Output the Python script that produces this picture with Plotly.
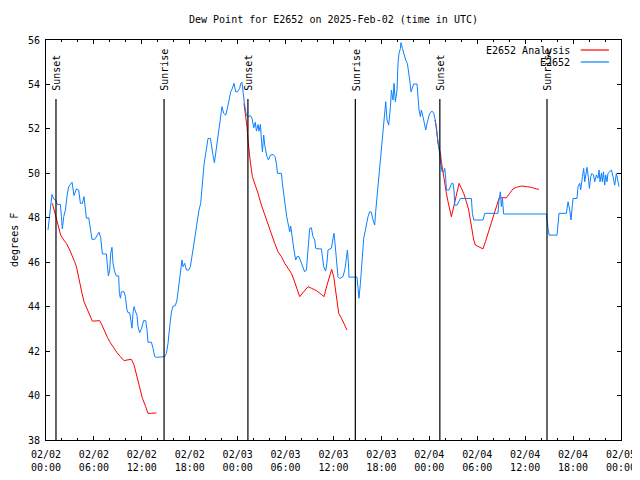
import pandas as pd
import plotly.graph_objects as go

BASE = "2025-02-02 00:00"

# Observed dew point (E2652): hours since 2025-02-02 00:00 UTC, degrees F
obs_hours = [0.25, 0.59, 0.75, 0.96, 1.21, 1.43, 1.80, 1.93, 2.05, 2.22, 2.43, 2.68, 2.84, 3.26, 3.51, 3.81,
             4.09, 4.31, 4.56, 4.76, 4.93, 5.06, 5.35, 5.56, 5.76, 6.10, 6.39, 6.64, 6.85, 6.94, 7.06, 7.56,
             7.69, 7.81, 7.98, 8.10, 8.26, 8.39, 8.60, 8.82, 9.10, 9.19, 9.32, 9.44, 9.77, 9.94, 10.14, 10.27,
             10.48, 10.64, 10.77, 10.89, 11.02, 11.19, 11.40, 11.52, 11.73, 11.95, 12.23, 12.48, 12.65, 12.77,
             13.20, 13.40, 13.61, 13.82, 14.86, 15.08, 15.28, 15.49, 15.70, 15.90, 16.20, 16.40, 16.62, 16.83,
             17.03, 17.16, 17.37, 17.58, 17.87, 18.08, 18.28, 18.53, 18.75, 18.96, 19.16, 19.37, 19.58, 19.78,
             20.00, 20.16, 20.29, 20.59, 20.75, 20.91, 21.09, 21.25, 21.46, 21.66, 21.88, 22.04, 22.25, 22.50,
             22.72, 22.92, 23.13, 23.34, 23.54, 23.75, 23.97, 24.26, 24.38, 24.54, 24.67, 24.84, 25.09, 25.38,
             25.59, 25.79, 26.01, 26.20, 26.35, 26.55, 26.67, 26.85, 27.01, 27.10, 27.26, 27.42, 27.67, 27.85,
             28.10, 28.43, 28.68, 28.85, 28.98, 29.48, 29.60, 29.80, 29.98, 30.14, 30.35, 30.52, 30.64, 30.77,
             30.93, 31.05, 31.27, 31.43, 31.68, 31.89, 32.11, 32.39, 32.61, 32.73, 32.86, 33.02, 33.23, 33.43,
             33.65, 33.77, 34.06, 34.49, 34.61, 34.77, 35.02, 35.19, 35.31, 35.52, 35.74, 35.94, 36.06, 36.19,
             36.36, 36.56, 36.78, 37.19, 37.44, 37.62, 37.74, 37.87, 37.94, 38.94, 39.07, 39.19, 39.37, 39.49,
             39.62, 39.78, 39.95, 40.12, 40.32, 40.53, 40.74, 40.95, 41.16, 41.28, 41.45, 41.62, 41.79, 41.95,
             42.12, 42.29, 42.41, 42.54, 42.70, 42.91, 43.13, 43.25, 43.45, 43.58, 43.75, 43.95, 44.08, 44.20,
             44.38, 44.45, 44.63, 44.83, 45.04, 45.25, 45.42, 45.54, 45.71, 45.88, 46.04, 46.46, 46.58, 46.71,
             46.88, 47.00, 47.21, 47.42, 47.55, 47.71, 47.88, 48.05, 48.34, 48.55, 48.71, 48.88, 49.08, 49.30,
             49.42, 49.59, 49.80, 49.93, 50.05, 50.14, 50.46, 50.64, 50.80, 50.96, 51.09, 51.18, 51.47, 51.68,
             51.89, 53.27, 53.39, 53.56, 54.72, 54.93, 56.60, 56.72, 56.90, 57.02, 57.15, 57.31, 62.66, 62.86,
             62.99, 63.99, 64.24, 65.16, 65.37, 65.58, 65.74, 65.92, 65.99, 66.49, 66.62, 66.83, 66.95, 67.17,
             67.33, 67.46, 67.58, 67.74, 67.92, 68.04, 68.21, 68.37, 68.55, 68.71, 68.92, 69.12, 69.25, 69.37,
             69.55, 69.67, 69.80, 69.96, 70.08, 70.25, 70.37, 70.59, 70.80, 71.01, 71.21, 71.42, 71.62, 71.75]
obs_values = [47.45, 48.65, 49.05, 48.85, 48.8, 48.6, 48.6, 48.05, 47.5, 48.05, 48.35, 49.1, 49.4, 49.6, 49.0, 49.3,
              49.25, 48.65, 48.65, 48.95, 48.2, 47.98, 48.0, 47.37, 47.03, 47.03, 47.2, 47.35, 47.1, 46.63, 46.37, 46.37,
              45.68, 45.38, 45.65, 46.4, 46.67, 45.95, 45.57, 45.38, 45.38, 44.6, 44.38, 44.67, 44.67, 44.45, 43.85, 43.73,
              43.73, 43.25, 43.03, 43.7, 44.0, 43.8, 43.6, 43.1, 42.83, 43.0, 43.37, 43.37, 42.95, 42.4,
              42.4, 42.13, 41.75, 41.72, 41.75, 41.9, 42.35, 43.1, 43.75, 44.02, 44.05, 44.3, 44.97, 45.5,
              46.1, 45.8, 45.95, 45.65, 45.65, 45.8, 46.25, 47.0, 47.45, 47.98, 48.35, 48.65, 49.55, 50.37,
              50.9, 51.35, 51.57, 51.57, 51.13, 50.82, 50.48, 50.9, 51.27, 51.8, 52.4, 53.0, 52.7, 52.62,
              52.93, 53.38, 53.67, 53.83, 54.05, 53.67, 53.67, 53.83, 54.05, 54.1, 53.6, 53.15, 52.62, 52.55,
              52.6, 52.48, 52.05, 52.3, 51.9, 52.2, 51.9, 52.2, 51.35, 50.97, 51.72, 51.2, 50.75, 50.6,
              50.82, 50.85, 50.75, 50.45, 50.0, 50.0, 49.55, 49.1, 48.5, 48.05, 47.6, 47.37, 47.63, 47.3,
              46.7, 46.55, 46.1, 46.25, 46.25, 46.02, 45.8, 45.57, 45.65, 46.25, 46.85, 47.52, 47.55, 47.15,
              47.0, 46.63, 46.6, 46.6, 46.25, 45.8, 45.6, 46.0, 46.55, 46.6, 46.63, 47.07, 47.3, 46.85,
              45.95, 45.35, 45.27, 45.35, 45.7, 46.3, 46.55, 45.98, 45.33, 45.33, 44.75, 44.38, 45.05, 45.65,
              46.25, 47.07, 47.37, 47.75, 48.05, 48.27, 48.25, 47.9, 47.68, 48.27, 48.95, 49.55, 50.0, 50.75,
              51.5, 52.1, 52.85, 53.22, 52.4, 52.17, 53.0, 53.75, 53.3, 54.05, 53.22, 53.75, 54.95, 55.4,
              55.62, 55.88, 55.62, 55.32, 55.1, 54.95, 54.57, 54.2, 53.67, 53.83, 54.02, 54.02, 53.45, 52.85,
              52.55, 52.85, 52.55, 52.17, 51.95, 52.25, 52.48, 52.7, 52.8, 52.7, 52.45, 51.95, 51.35, 50.9,
              50.45, 50.07, 50.07, 50.22, 49.78, 49.25, 49.25, 49.47, 49.55, 49.55, 49.25, 48.57, 48.57, 48.72,
              48.87, 48.87, 48.2, 47.9, 47.9, 48.2, 48.2, 48.8, 49.17, 48.5, 48.87, 48.17, 48.17, 47.52,
              47.22, 47.22, 48.2, 48.2, 48.72, 48.35, 47.9, 48.6, 48.87, 48.87, 49.4, 49.55, 49.25, 49.85,
              50.22, 49.62, 50.0, 50.27, 49.8, 49.32, 49.85, 50.0, 49.93, 49.62, 49.93, 49.78, 50.15, 49.62,
              50.0, 49.62, 50.07, 49.47, 49.93, 49.62, 50.0, 50.07, 50.15, 49.85, 49.47, 50.0, 49.62, 49.4]

# Analysis dew point (E2652 Analysis), three separate runs (None = gap)
ana_hours = [0.80, 1.09, 1.30, 1.59, 1.84, 2.22, 2.55, 2.97, 3.26, 3.59, 3.81, 4.01, 4.22, 4.51, 4.76, 5.06,
             5.47, 5.81, 6.72, 7.01, 7.35, 7.69, 8.06, 8.48, 8.89, 9.32, 9.77, 10.14, 10.69, 11.02, 11.32, 11.65,
             12.07, 12.48, 12.77, 13.20, 13.82, 14.0,
             24.79, 25.01, 25.17, 25.29, 25.42, 25.59, 25.84, 26.13, 26.55, 26.97, 27.39, 27.80, 28.22, 28.64,
             29.05, 29.48, 29.89, 30.30, 30.73, 31.05, 31.43, 31.77, 32.27, 32.81, 33.23, 33.86, 34.49, 34.81,
             35.19, 35.52, 35.77, 36.03, 36.24, 36.44, 36.65, 36.99, 37.40, 37.69, 38.0,
             48.71, 48.88, 49.08, 49.39, 49.51, 49.71, 49.93, 50.14, 50.34, 50.55, 50.76, 50.96, 51.18, 51.39,
             51.59, 51.72, 52.02, 52.30, 52.64, 52.93, 53.14, 53.34, 53.56, 53.77, 54.18, 54.72, 55.02, 55.35,
             55.69, 56.06, 56.40, 56.72, 57.02, 57.65, 58.06, 58.48, 58.90, 59.53, 60.16, 60.78, 61.41, 61.73]
ana_values = [48.65, 48.27, 47.9, 47.52, 47.22, 47.0, 46.85, 46.55, 46.32, 46.02, 45.8, 45.43, 45.05, 44.6, 44.22, 43.93,
              43.63, 43.35, 43.37, 43.17, 42.87, 42.62, 42.38, 42.13, 41.93, 41.75, 41.57, 41.6, 41.63, 41.38, 40.92, 40.4,
              39.88, 39.5, 39.2, 39.2, 39.22, None,
              53.15, 52.62, 52.1, 51.5, 50.9, 50.5, 49.85, 49.55, 49.1, 48.57, 48.12, 47.68, 47.3, 46.85,
              46.47, 46.25, 45.95, 45.72, 45.5, 45.2, 44.83, 44.45, 44.67, 44.9, 44.83, 44.72, 44.55, 44.45,
              44.97, 45.35, 45.68, 45.35, 44.83, 44.3, 43.7, 43.48, 43.17, 42.95, None,
              52.4, 52.1, 51.35, 50.9, 50.52, 50.0, 49.55, 49.1, 48.72, 48.35, 48.05, 48.35, 48.72, 49.1,
              49.4, 49.55, 49.32, 49.1, 48.72, 48.35, 47.9, 47.45, 47.0, 46.77, 46.7, 46.6, 46.92, 47.3,
              47.75, 48.2, 48.57, 48.87, 48.9, 48.9, 49.1, 49.3, 49.37, 49.43, 49.4, 49.37, 49.3, 49.28]

sunset_times = ["2025-02-02 01:15", "2025-02-03 01:17", "2025-02-04 01:19"]
sunrise_times = ["2025-02-02 14:47", "2025-02-03 14:44", "2025-02-04 14:44"]

y_ticks = [38, 40, 42, 44, 46, 48, 50, 52, 54, 56]

base = pd.Timestamp(BASE)
obs_t = base + pd.to_timedelta(obs_hours, unit="h")
ana_t = base + pd.to_timedelta(ana_hours, unit="h")

FONT = dict(family="DejaVu Sans Mono", size=10, color="black")
BLUE = "#0a80ff"
RED = "#ff0000"

# The page body has an 8px default margin; size the figure so that the
# plot area lands at the reference's pixel positions inside a 640x480 window.
W, H = 632, 472

fig = go.Figure()
fig.add_trace(go.Scatter(x=ana_t, y=ana_values, mode="lines", name="E2652 Analysis",
                         line=dict(color=RED, width=1), connectgaps=False))
fig.add_trace(go.Scatter(x=obs_t, y=obs_values, mode="lines", name="E2652",
                         line=dict(color=BLUE, width=1)))

events = [(t, "Sunset") for t in sunset_times] + [(t, "Sunrise") for t in sunrise_times]
for t, label in events:
    fig.add_shape(type="line", xref="x", yref="paper", x0=t, x1=t, y0=0, y1=0.8525,
                  line=dict(color="black", width=1.2))
    fig.add_annotation(x=t, y=0.868, xref="x", yref="paper", text=label, textangle=-90,
                       showarrow=False, xanchor="center", yanchor="bottom", font=FONT, xshift=1)

# legend drawn gnuplot-style: text right, sample line on the right
for name, color, yp in [("E2652 Analysis", RED, 0.975), ("E2652", BLUE, 0.945)]:
    fig.add_annotation(x=0.914, y=yp, xref="paper", yref="paper", text=name, showarrow=False,
                       xanchor="right", yanchor="middle", font=FONT)
    fig.add_shape(type="line", xref="paper", yref="paper", x0=0.930, x1=0.979, y0=yp, y1=yp,
                  line=dict(color=color, width=1.2))

fig.add_annotation(x=-0.0557, y=0.5, xref="paper", yref="paper", text="degrees F", textangle=-90,
                   showarrow=False, xanchor="center", yanchor="middle", font=FONT)

fig.update_layout(
    width=W, height=H,
    margin=dict(l=38, r=19, t=32, b=40, autoexpand=False),
    paper_bgcolor="white", plot_bgcolor="white",
    font=FONT,
    showlegend=False,
    title=dict(text="Dew Point for E2652 on 2025-Feb-02 (time in UTC)", x=0.5, xref="paper",
               y=1 - 11 / H, yanchor="middle", font=FONT, automargin=False),
)
fig.update_xaxes(
    type="date", range=["2025-02-02 00:00", "2025-02-05 00:00"], automargin=False,
    tick0="2025-02-02", dtick=6 * 3600 * 1000, tickformat="%m/%d<br>%H:%M",
    ticks="inside", ticklen=4, tickcolor="black", showgrid=False, zeroline=False,
    showline=True, linecolor="black", linewidth=1, mirror="ticks", ticklabelstandoff=5,
    minor=dict(dtick=2 * 3600 * 1000, ticks="inside", ticklen=2, tickcolor="black", showgrid=False),
    tickfont=FONT,
)
fig.update_yaxes(
    range=[38, 56], tickvals=y_ticks, ticks="inside", ticklen=4, tickcolor="black", automargin=False,
    showgrid=False, zeroline=False, showline=True, linecolor="black", linewidth=1, mirror="ticks",
    ticklabelstandoff=3, tickfont=FONT,
)

fig.write_html("out.html")
